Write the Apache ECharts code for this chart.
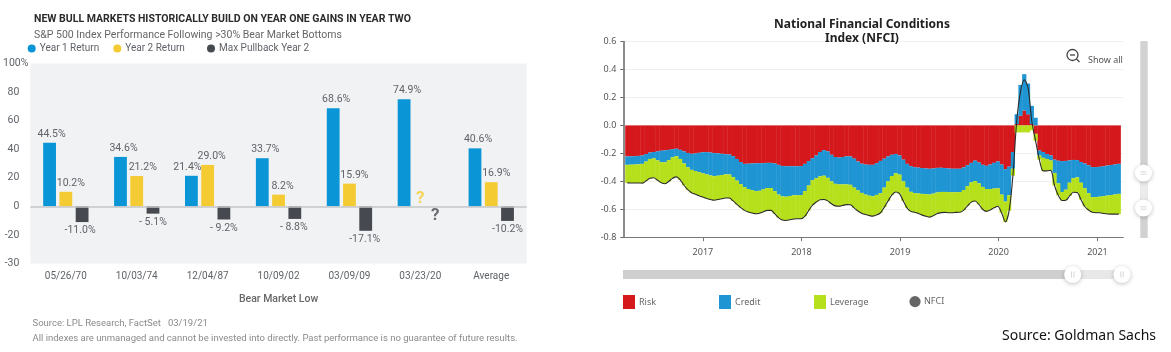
<!DOCTYPE html>
<html>
<head>
<meta charset="utf-8">
<style>html,body{margin:0;padding:0;background:#fff}#c{width:1171px;height:352px}</style>
<script src="https://cdn.jsdelivr.net/npm/echarts@6/dist/echarts.min.js"></script>
</head>
<body>
<div id="c"></div>
<script>
const categories = ['05/26/70','10/03/74','12/04/87','10/09/02','03/09/09','03/23/20','Average'];
const year1Return = [44.5,34.6,21.4,33.7,68.6,74.9,40.6];
const year2Return = [10.2,21.2,29.0,8.2,15.9,null,16.9];
const maxPullback = [-11.0,-5.1,-9.2,-8.8,-17.1,null,-10.2];
const year1Labels = ['44.5%','34.6%','21.4%','33.7%','68.6%','74.9%','40.6%'];
const year2Labels = ['10.2%','21.2%','29.0%','8.2%','15.9%','','16.9%'];
const pullbackLabels = ['-11.0%','- 5.1%','- 9.2%','- 8.8%','-17.1%','','-10.2%'];
const leftTickLabels = {100:'100%',80:'80',60:'60',40:'40',20:'20',0:'0','-20':'-20','-40':'-30'};

const nfciRisk = [-.222,-.221,-.220,-.218,-.215,-.205,-.194,-.190,-.186,-.181,-.178,-.175,-.170,-.167,-.175,-.186,-.197,-.203,-.201,-.196,-.192,-.191,-.194,-.198,-.200,-.203,-.206,-.208,-.220,-.240,-.262,-.275,-.274,-.272,-.271,-.270,-.270,-.268,-.268,-.272,-.282,-.290,-.292,-.292,-.292,-.292,-.291,-.275,-.255,-.235,-.215,-.190,-.177,-.185,-.210,-.226,-.230,-.226,-.221,-.222,-.238,-.258,-.274,-.280,-.282,-.282,-.270,-.254,-.238,-.222,-.210,-.204,-.215,-.245,-.275,-.292,-.299,-.302,-.305,-.308,-.310,-.308,-.304,-.303,-.305,-.308,-.310,-.310,-.310,-.300,-.285,-.268,-.252,-.265,-.282,-.289,-.280,-.268,-.258,-.280,-.313,-.295,-.190,.010,.070,.107,.080,.010,-.060,-.180,-.190,-.205,-.215,-.245,-.253,-.255,-.254,-.250,-.247,-.248,-.262,-.273,-.285,-.298,-.298,-.296,-.292,-.287,-.283,-.279,-.275];
const nfciCredit = [-.060,-.060,-.060,-.060,-.060,-.053,-.046,-.046,-.064,-.082,-.086,-.073,-.058,-.053,-.065,-.086,-.103,-.115,-.125,-.139,-.151,-.159,-.164,-.165,-.160,-.152,-.144,-.143,-.150,-.155,-.158,-.167,-.181,-.191,-.199,-.198,-.188,-.180,-.180,-.198,-.213,-.218,-.218,-.213,-.208,-.207,-.207,-.195,-.175,-.157,-.163,-.175,-.183,-.190,-.190,-.192,-.192,-.196,-.201,-.203,-.207,-.207,-.209,-.215,-.221,-.225,-.227,-.231,-.207,-.178,-.152,-.138,-.137,-.155,-.170,-.183,-.185,-.185,-.185,-.184,-.184,-.180,-.176,-.173,-.171,-.169,-.168,-.168,-.167,-.162,-.150,-.140,-.146,-.150,-.158,-.166,-.175,-.184,-.192,-.215,-.232,-.205,-.120,.070,.220,.260,.220,.130,.055,-.035,-.042,-.035,-.036,-.095,-.162,-.222,-.206,-.160,-.131,-.124,-.148,-.177,-.200,-.215,-.215,-.214,-.214,-.215,-.215,-.215,-.215];
const nfciLeverage = [-.129,-.131,-.132,-.134,-.138,-.138,-.138,-.139,-.142,-.147,-.153,-.152,-.150,-.148,-.150,-.156,-.160,-.164,-.166,-.168,-.170,-.173,-.172,-.172,-.170,-.170,-.169,-.169,-.170,-.170,-.168,-.166,-.165,-.164,-.162,-.160,-.160,-.160,-.160,-.162,-.165,-.169,-.170,-.170,-.170,-.169,-.170,-.180,-.178,-.178,-.170,-.167,-.170,-.165,-.160,-.158,-.156,-.150,-.145,-.143,-.145,-.147,-.145,-.143,-.142,-.142,-.143,-.140,-.140,-.140,-.135,-.134,-.136,-.140,-.145,-.140,-.138,-.143,-.152,-.158,-.162,-.157,-.150,-.148,-.146,-.148,-.147,-.144,-.144,-.144,-.140,-.141,-.143,-.150,-.160,-.160,-.150,-.138,-.128,-.130,-.145,-.110,-.050,-.050,-.050,-.050,-.050,-.035,-.050,-.030,-.093,-.085,-.071,-.090,-.085,-.060,-.075,-.095,-.100,-.108,-.120,-.130,-.120,-.109,-.112,-.115,-.124,-.132,-.137,-.141,-.145];
const nfciIndex = [-.411,-.412,-.412,-.412,-.413,-.396,-.378,-.375,-.392,-.410,-.417,-.400,-.378,-.368,-.390,-.428,-.460,-.482,-.492,-.503,-.513,-.523,-.530,-.535,-.530,-.525,-.519,-.520,-.540,-.565,-.588,-.608,-.620,-.627,-.632,-.628,-.618,-.608,-.608,-.632,-.660,-.677,-.680,-.675,-.670,-.668,-.668,-.650,-.608,-.570,-.548,-.532,-.530,-.540,-.560,-.576,-.578,-.572,-.567,-.568,-.590,-.612,-.628,-.638,-.645,-.649,-.640,-.625,-.585,-.540,-.497,-.476,-.488,-.540,-.590,-.615,-.622,-.630,-.642,-.650,-.656,-.645,-.630,-.624,-.622,-.625,-.625,-.622,-.621,-.606,-.575,-.549,-.541,-.565,-.600,-.615,-.605,-.590,-.578,-.625,-.690,-.610,-.360,.030,.240,.327,.270,.030,-.110,-.245,-.325,-.325,-.322,-.430,-.500,-.537,-.535,-.505,-.478,-.480,-.530,-.580,-.605,-.622,-.625,-.625,-.630,-.634,-.635,-.635,-.635];
const firstDate = Date.UTC(2016,2,27);
const stepDays = 14;

const DAY = 86400000;
const dates = nfciIndex.map((_, i) => firstDate + i * stepDays * DAY);
const pair = arr => arr.map((v, i) => [dates[i], v]);

const FONT_L = 'Roboto';
const FONT_R = '"Noto Sans"';
const C_TEXT = '#5f6368';

const y1Off = [2,3,-4,3,3,3,3];
const y2Off = [5,6,4,4,5,0,5];
const pbOff = [-2,0,0,-1,-1,0,0];

function leftBar(name, color, values, labels, offs, pos) {
  return {
    type:'bar', name, xAxisIndex:0, yAxisIndex:0, barWidth:12.8, barGap:'27%',
    itemStyle:{color},
    data: values.map((v,i)=>({value:v, label:{show:!!labels[i], position:pos, distance:3, offset:[offs[i],0],
      formatter:labels[i], fontFamily:FONT_L, fontSize:10.5, color:C_TEXT}}))
  };
}
function nfciBar(name, color, values) {
  return {type:'bar', name, stack:'nfci', xAxisIndex:1, yAxisIndex:1, barWidth:4.2, itemStyle:{color}, data:pair(values), large:false};
}
function txt(text, left, top, size, color, weight, family, extra) {
  return Object.assign({text, left, top, textStyle:{fontSize:size, color, fontWeight:weight||'normal', fontFamily:family||FONT_L, lineHeight:size+2.5}}, extra||{});
}
function leg(name, left, top, w, h, size, color, family, icon) {
  const l = {data:[icon?{name,icon}:{name}], left, top, itemWidth:w, itemHeight:h, itemGap:0, padding:0, selectedMode:false,
    textStyle:{fontSize:size, color, fontFamily:family, padding:[0,0,0,-1]}};
  return l;
}
function handle(cx, cy, vertical) {
  const grip = vertical
    ? [[cx-3,cy-1.2,cx+3,cy-1.2],[cx-3,cy+1.2,cx+3,cy+1.2]]
    : [[cx-1.2,cy-3,cx-1.2,cy+3],[cx+1.2,cy-3,cx+1.2,cy+3]];
  return [{type:'circle', shape:{cx,cy,r:8.6}, style:{fill:'#fff', shadowBlur:4, shadowColor:'rgba(0,0,0,.25)', shadowOffsetY:1}, z:20}]
    .concat(grip.map(g=>({type:'line', shape:{x1:g[0],y1:g[1],x2:g[2],y2:g[3]}, style:{stroke:'#d8d8d8', lineWidth:1}, z:21})));
}

const option = {
  animation:false,
  useUTC:true,
  backgroundColor:'#fff',
  title:[
    txt('NEW BULL MARKETS HISTORICALLY BUILD ON YEAR ONE GAINS IN YEAR TWO',29,8,10.5,'#2b2b2b','bold'),
    txt('S&P 500 Index Performance Following >30% Bear Market Bottoms',29,24,10.5,'#666'),
    txt('Source: LPL Research, FactSet   03/19/21',27.5,313,9.5,'#8a8a8a'),
    txt('All indexes are unmanaged and cannot be invested into directly. Past performance is no guarantee of future results.',27.5,328,9.5,'#8a8a8a'),
    txt('National Financial Conditions\nIndex (NFCI)',857,12,12,'#222','bold',FONT_R,{textAlign:'center'}),
    txt('Show all',1083,50,9,'#555','normal',FONT_R),
    txt('Source: Goldman Sachs',997,323,14,'#111','normal',FONT_R)
  ],
  legend:[
    leg('Year 1 Return',27.7,43.5,8,8,10,C_TEXT,FONT_L,'circle'),
    leg('Year 2 Return',113.3,43.5,8,8,10,C_TEXT,FONT_L,'circle'),
    leg('Max Pullback Year 2',207,43.5,8,8,10,C_TEXT,FONT_L,'circle'),
    leg('Risk',623,295,12,14,9,'#666',FONT_R,'rect'),
    leg('Credit',719,295,12,14,9,'#666',FONT_R,'rect'),
    leg('Leverage',814,295,12,14,9,'#666',FONT_R,'rect'),
    leg('NFCI',909,296,10,14,9,'#666',FONT_R)
  ],
  grid:[
    {left:28.7, top:63.5, width:498, height:200, show:true, backgroundColor:'#f1f2f4', borderWidth:0},
    {left:623.3, top:41.6, width:500, height:195.6, show:false}
  ],
  xAxis:[
    {type:'category', gridIndex:0, data:categories, boundaryGap:true,
     axisLine:{show:false,onZero:false}, axisTick:{show:false},
     axisLabel:{fontFamily:FONT_L, fontSize:10, color:C_TEXT, margin:8, interval:0},
     name:'Bear Market Low', nameLocation:'middle', nameGap:30,
     nameTextStyle:{fontFamily:FONT_L, fontSize:10.5, fontWeight:500, color:'#666'}},
    {type:'time', gridIndex:1, min:Date.UTC(2016,2,20), max:Date.UTC(2021,2,30),
     minInterval:365*DAY, maxInterval:366*DAY,
     axisLine:{onZero:false, lineStyle:{color:'#777',width:1}},
     axisTick:{show:true, length:4, lineStyle:{color:'#777'}},
     splitLine:{show:false},
     axisLabel:{showMinLabel:false, showMaxLabel:false, hideOverlap:false, formatter:'{yyyy}', fontFamily:FONT_R, fontSize:9, color:'#555', margin:11}}
  ],
  yAxis:[
    {type:'value', gridIndex:0, min:-40, max:100, interval:20,
     axisLine:{show:false}, axisTick:{show:false}, splitLine:{show:false},
     axisLabel:{margin:2, fontFamily:FONT_L, fontSize:10.5, color:C_TEXT,
       formatter:v=> v===100 ? leftTickLabels[v] : '{p|'+leftTickLabels[v]+'}',
       rich:{p:{padding:[0,9,0,0], fontFamily:FONT_L, fontSize:10.5, color:C_TEXT}}}},
    {type:'value', gridIndex:1, min:-0.8, max:0.6, interval:0.2,
     axisLine:{show:true, onZero:false, lineStyle:{color:'#666',width:1.5}},
     axisTick:{show:true, length:3, lineStyle:{color:'#666'}},
     splitLine:{show:true, lineStyle:{color:'#f0f0f0',width:1}},
     axisLabel:{margin:7, fontFamily:FONT_R, fontSize:9, color:'#555', formatter:v=>v.toFixed(1)}}
  ],
  series:[
    Object.assign(leftBar('Year 1 Return','#0a96d6',year1Return,year1Labels,y1Off,'top'),{
      markLine:{silent:true,symbol:'none',label:{show:false},lineStyle:{color:'#c4c6c8',width:1.5,type:'solid'},data:[{yAxis:0}]}
    }),
    leftBar('Year 2 Return','#f4cb32',year2Return,year2Labels,y2Off,'top'),
    leftBar('Max Pullback Year 2','#46494f',maxPullback,pullbackLabels,pbOff,'bottom'),
    {type:'scatter', name:'Year 2 unknown', xAxisIndex:0, yAxisIndex:0, symbolSize:1, itemStyle:{color:'transparent'},
     data:[['03/23/20',5]],
     label:{show:true, position:'inside', formatter:'?', fontFamily:FONT_L, fontSize:17, fontWeight:'bold', color:'#f4cb32'}},
    {type:'scatter', name:'Pullback unknown', xAxisIndex:0, yAxisIndex:0, symbolSize:1, itemStyle:{color:'transparent'},
     data:[['03/23/20',-6.5]],
     label:{show:true, position:'inside', offset:[15,0], formatter:'?', fontFamily:FONT_L, fontSize:17, fontWeight:'bold', color:'#46494f'}},
    nfciBar('Risk','#d4181c',nfciRisk),
    nfciBar('Credit','#1f95d3',nfciCredit),
    nfciBar('Leverage','#b6e01c',nfciLeverage),
    {type:'line', name:'NFCI', xAxisIndex:1, yAxisIndex:1, data:pair(nfciIndex), smooth:0.3, showSymbol:false, symbol:'none',
     lineStyle:{color:'#2a2a2a',width:1.1}, itemStyle:{color:'#666'}, z:5}
  ],
  graphic:[
    {type:'rect', shape:{x:623,y:270,width:450,height:9}, style:{fill:'#cfcfcf'}, z:10},
    {type:'rect', shape:{x:1073,y:270,width:49,height:9}, style:{fill:'#e8e8e8'}, z:10},
    {type:'rect', shape:{x:1140.3,y:41,width:7.4,height:197}, style:{fill:'#d2d2d2'}, z:10},
    {type:'rect', shape:{x:1140.3,y:173,width:7.4,height:35}, style:{fill:'#ececec'}, z:11},
    ...handle(1072.7,274.5,false), ...handle(1122,274.5,false),
    ...handle(1143.5,173,true), ...handle(1143.5,208,true),
    {type:'circle', shape:{cx:1072.5,cy:55,r:5.5}, style:{fill:'none',stroke:'#444',lineWidth:1.3}, z:20},
    {type:'line', shape:{x1:1076.5,y1:59,x2:1079.5,y2:62}, style:{stroke:'#444',lineWidth:1.3}, z:20},
    {type:'line', shape:{x1:1070,y1:55,x2:1075,y2:55}, style:{stroke:'#444',lineWidth:1.3}, z:20}
  ]
};
echarts.init(document.getElementById('c'),null,{renderer:'canvas'}).setOption(option);
</script>
</body>
</html>
